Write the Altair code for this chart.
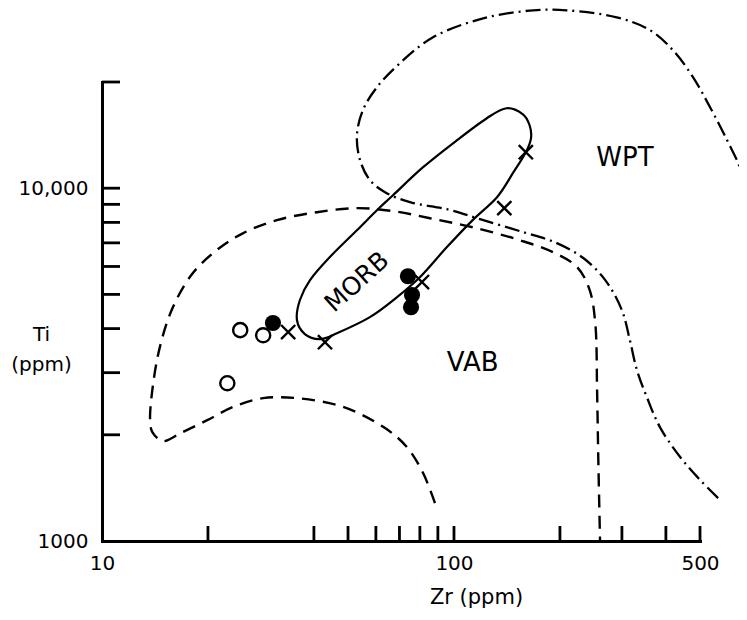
import altair as alt
import pandas as pd

# ---------------- values (Zr ppm, Ti ppm) ----------------
# WPT field boundary (dash-dot), traced from the right edge round the top loop
WPT_ZR = [671, 649, 597, 534, 478, 419, 361, 290, 209, 168, 121, 87.2, 70.2, 60.4,
          55.1, 53.0, 54.1, 57.7, 63.7, 75.0, 95.5, 118.6, 157, 196, 233, 269, 300,
          316, 331, 353, 385, 439, 500, 570]
WPT_TI = [10200, 11470, 13680, 16960, 20620, 24600, 28030, 30500, 31930, 31930, 30300,
          26780, 22610, 19320, 16630, 14130, 12000, 10540, 9743, 9130, 8720, 8170, 7510,
          6990, 6340, 5490, 4510, 3710, 3050, 2560, 2100, 1730, 1490, 1307]

# VAB field boundary (dashed)
VAB_ZR = [88.3, 81.7, 73.5, 63.7, 48.4, 35.8, 28.7, 23.6, 19.9, 16.7, 14.9, 13.9, 13.7,
          13.9, 14.6, 15.9, 18.1, 21.2, 25.2, 31.4, 40.8, 53.0, 67.1, 85.5, 113, 154,
          191, 224, 243, 252, 255, 257, 260]
VAB_TI = [1281, 1558, 1846, 2090, 2400, 2540, 2540, 2400, 2200, 2020, 1920, 2036, 2200,
          2680, 3545, 4600, 5740, 6680, 7460, 8120, 8550, 8780, 8610, 8220, 7750, 7120,
          6590, 5970, 5140, 4150, 2680, 1730, 1000]

# MORB field (solid, closed)
MORB_ZR = [141, 157, 164, 165.5, 160, 147, 132.5, 113, 95.5, 80.1, 68.9, 57.7, 46.5,
           41.6, 37.7, 35.8, 36.5, 39.0, 44.4, 53.0, 60.4, 67.1, 81.7, 102, 124]
MORB_TI = [16850, 16200, 15080, 13850, 12650, 11030, 9430, 8120, 6810, 5600, 4910, 4310,
           3880, 3735, 3860, 4230, 4820, 5490, 6380, 7600, 8660, 9550, 11470, 13680, 15790]

# samples
OPEN_ZR = [24.7, 28.7, 22.7]
OPEN_TI = [3960, 3830, 2800]
FILLED_ZR = [30.6, 74.0, 76.0, 75.5]
FILLED_TI = [4150, 5630, 4980, 4600]
CROSS_ZR = [33.8, 43.0, 81.1, 160, 139]
CROSS_TI = [3910, 3660, 5420, 12650, 8780]

# field labels
LABELS = ["WPT", "VAB"]
LABEL_ZR = [306, 113]
LABEL_TI = [12160, 3190]
MORB_LABEL = ["MORB"]
MORB_LABEL_ZR = [53.0]
MORB_LABEL_TI = [5420]

# axis ticks / labels
X_TICKS = [20, 40, 50, 60, 70, 80, 90, 100, 200, 300, 400, 500]
Y_TICKS = [2000, 3000, 4000, 5000, 6000, 7000, 8000, 9000, 10000, 20000]
X_LABELS = [10, 100, 500]
Y_LABELS = [1000, 10000]

# ---------------- chart ----------------
FONT = "DejaVu Sans"
W, H = 598, 459

xscale = alt.Scale(type="log", domain=[10, 500], nice=False)
yscale = alt.Scale(type="log", domain=[1000, 20000], nice=False)

xaxis = alt.Axis(values=X_LABELS, format="d", ticks=False, grid=False,
                 domainWidth=3, domainColor="black", domainCap="square",
                 labelFlush=False, labelFont=FONT, labelFontSize=20, labelColor="black",
                 labelPadding=12,
                 title="Zr (ppm)", titleFont=FONT, titleFontSize=21,
                 titleFontWeight="normal", titleColor="black",
                 titleX=374, titleY=62, titleAlign="center", titleBaseline="alphabetic")
yaxis = alt.Axis(values=Y_LABELS, ticks=False, grid=False,
                 labelExpr="datum.value == 10000 ? '10,000' : '1000'",
                 domainWidth=3, domainColor="black", domainCap="square",
                 labelFont=FONT, labelFontSize=20, labelColor="black",
                 labelPadding=14, labelBaseline="middle",
                 title=["Ti", "(ppm)"], titleFont=FONT, titleFontSize=20,
                 titleFontWeight="normal", titleColor="black", titleAngle=0,
                 titleX=-61, titleY=258, titleAlign="center",
                 titleBaseline="alphabetic", titleLineHeight=30)


def X():
    return alt.X("zr:Q", scale=xscale, axis=xaxis)


def Y():
    return alt.Y("ti:Q", scale=yscale, axis=yaxis)


def path_df(zr, ti):
    return pd.DataFrame({"zr": zr, "ti": ti, "i": list(range(len(zr)))})


vab = alt.Chart(path_df(VAB_ZR, VAB_TI)).mark_line(
    color="black", strokeWidth=2.4, strokeDash=[13, 8], interpolate="catmull-rom",
    clip=False
).encode(x=X(), y=Y(), order="i:Q")

wpt = alt.Chart(path_df(WPT_ZR, WPT_TI)).mark_line(
    color="black", strokeWidth=2.3, strokeDash=[15, 5, 2, 5], interpolate="catmull-rom",
    clip=False
).encode(x=X(), y=Y(), order="i:Q")

morb = alt.Chart(path_df(MORB_ZR, MORB_TI)).mark_line(
    color="black", strokeWidth=2.2, interpolate="cardinal-closed", clip=False
).encode(x=X(), y=Y(), order="i:Q")

xt = alt.Chart(pd.DataFrame({"zr": X_TICKS})).mark_rule(
    color="black", strokeWidth=2.8
).encode(x=X(), y=alt.value(H), y2=alt.value(H - 15))

yt = alt.Chart(pd.DataFrame({"ti": Y_TICKS})).mark_rule(
    color="black", strokeWidth=2.8
).encode(y=Y(), x=alt.value(0), x2=alt.value(18))

filled = alt.Chart(pd.DataFrame({"zr": FILLED_ZR, "ti": FILLED_TI})).mark_point(
    shape="circle", filled=True, color="black", size=260, opacity=1
).encode(x=X(), y=Y())

open_c = alt.Chart(pd.DataFrame({"zr": OPEN_ZR, "ti": OPEN_TI})).mark_point(
    shape="circle", filled=True, fill="white", stroke="black", strokeWidth=2.4,
    size=200, opacity=1, fillOpacity=1, strokeOpacity=1
).encode(x=X(), y=Y())

cross = alt.Chart(pd.DataFrame({"zr": CROSS_ZR, "ti": CROSS_TI})).mark_point(
    shape="M-1,-1L1,1M-1,1L1,-1", filled=False, color="black", strokeWidth=2.4,
    size=200, opacity=1
).encode(x=X(), y=Y())

labels = alt.Chart(pd.DataFrame({"zr": LABEL_ZR, "ti": LABEL_TI, "t": LABELS})).mark_text(
    font=FONT, fontSize=26, color="black", align="center", baseline="middle"
).encode(x=X(), y=Y(), text="t:N")

morb_label = alt.Chart(pd.DataFrame({"zr": MORB_LABEL_ZR, "ti": MORB_LABEL_TI,
                                     "t": MORB_LABEL})).mark_text(
    font=FONT, fontSize=25, color="black", align="center", baseline="middle", angle=318
).encode(x=X(), y=Y(), text="t:N")

chart = alt.layer(vab, wpt, morb, xt, yt, filled, open_c, cross, labels, morb_label).properties(
    width=W, height=H,
    padding={"left": 94, "top": 74, "right": 39, "bottom": 70},
    autosize=alt.AutoSizeParams(type="none"),
    background="white",
).configure_view(stroke="transparent")

chart.save("out.html", embed_options={"renderer": "svg", "actions": False})
